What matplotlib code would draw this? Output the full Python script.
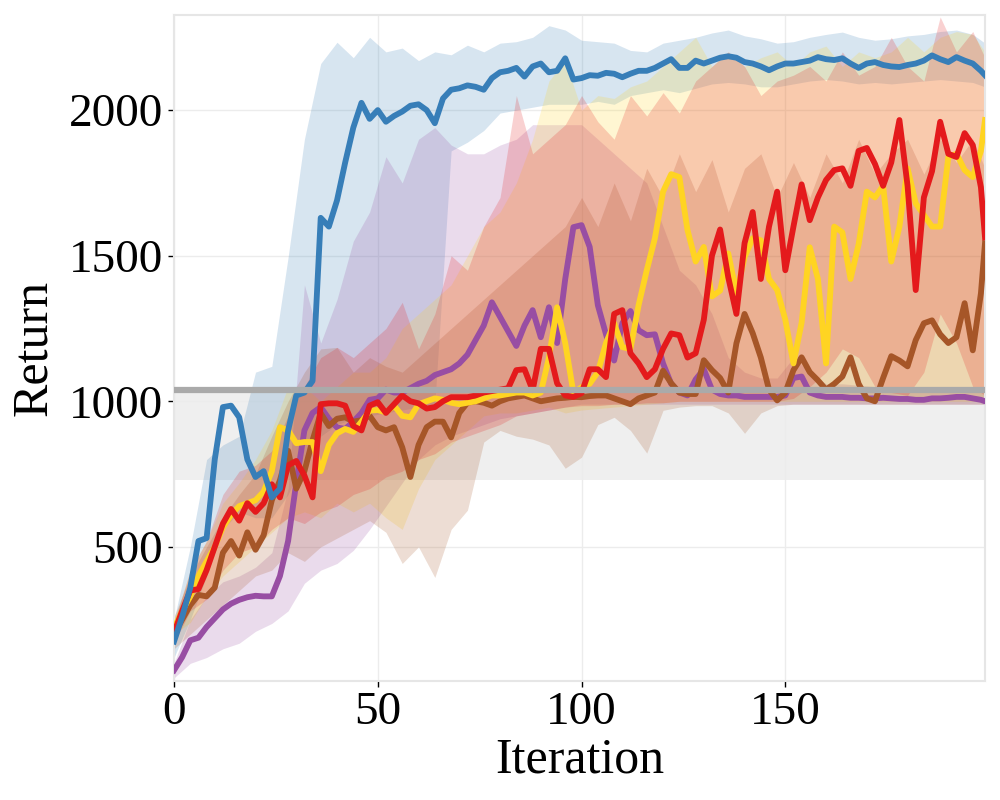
import numpy as np
import matplotlib
matplotlib.use("Agg")
import matplotlib.pyplot as plt

# ---------------- data ----------------
line_iters = list(range(0, 199, 2)) + [199]
fill_iters = list(range(0, 197, 4)) + [199]

blue_mean = [175, 260, 360, 520, 530, 800, 980, 985, 945, 800, 740, 760, 670, 700, 900, 1020, 1030, 1070, 1630, 1600,
             1690, 1820, 1940, 2025, 1970, 2000, 1960, 1980, 1995, 2015, 2020, 2000, 1955, 2040, 2070, 2075, 2085, 2080, 2070, 2110,
             2130, 2135, 2145, 2115, 2150, 2160, 2130, 2135, 2178, 2105, 2110, 2120, 2118, 2128, 2125, 2113, 2125, 2135, 2135, 2145,
             2160, 2175, 2145, 2145, 2170, 2160, 2170, 2180, 2185, 2180, 2165, 2160, 2150, 2137, 2150, 2160, 2160, 2165, 2170, 2182,
             2175, 2172, 2178, 2160, 2145, 2160, 2165, 2155, 2150, 2148, 2155, 2160, 2170, 2188, 2175, 2165, 2182, 2170, 2160, 2135, 2120]
red_mean = [205, 280, 350, 355, 420, 500, 580, 630, 590, 650, 620, 650, 715, 670, 780, 795, 745, 670, 990, 993,
            993, 985, 915, 900, 985, 997, 960, 990, 1020, 1000, 993, 975, 980, 1000, 1014, 1014, 1014, 1020, 1030, 1035,
            1040, 1045, 1107, 1110, 1038, 1180, 1180, 1062, 1020, 1015, 1028, 1110, 1110, 1083, 1300, 1313, 1165, 1130, 1083, 1110,
            1180, 1233, 1227, 1150, 1165, 1280, 1500, 1590, 1426, 1300, 1543, 1650, 1420, 1600, 1720, 1450, 1600, 1745, 1622, 1700,
            1760, 1794, 1800, 1740, 1860, 1870, 1815, 1740, 1820, 1966, 1740, 1382, 1700, 1790, 1960, 1850, 1839, 1921, 1880, 1735, 1563]
yellow_mean = [220, 280, 330, 400, 450, 500, 567, 610, 640, 650, 660, 690, 760, 911, 900, 856, 860, 860, 760, 850,
               890, 905, 895, 930, 968, 970, 962, 985, 950, 945, 990, 1000, 1010, 1005, 995, 990, 995, 1000, 1010, 1020,
               1020, 1025, 1030, 1030, 1020, 1030, 1150, 1323, 1200, 1030, 1048, 1060, 1100, 1200, 1268, 1186, 1180, 1330, 1450, 1560,
               1720, 1780, 1770, 1588, 1480, 1530, 1360, 1380, 1508, 1371, 1495, 1560, 1553, 1420, 1382, 1280, 1130, 1270, 1529, 1420,
               1130, 1600, 1580, 1420, 1540, 1720, 1700, 1740, 1480, 1600, 1800, 1680, 1640, 1600, 1600, 1839, 1850, 1794, 1770, 1860, 1966]
purple_mean = [76, 121, 179, 188, 225, 255, 285, 305, 318, 327, 332, 330, 330, 400, 520, 720, 900, 960, 980, 940,
               910, 905, 930, 960, 1005, 1010, 1040, 1030, 1030, 1045, 1060, 1070, 1090, 1100, 1110, 1130, 1160, 1210, 1260, 1340,
               1290, 1240, 1190, 1260, 1313, 1220, 1323, 1200, 1420, 1598, 1605, 1530, 1330, 1230, 1140, 1268, 1310, 1244, 1227, 1230,
               1130, 1060, 1030, 1020, 1075, 1110, 1040, 1025, 1020, 1020, 1015, 1015, 1015, 1015, 1015, 1020, 1080, 1085, 1030, 1020,
               1015, 1015, 1015, 1012, 1012, 1010, 1010, 1012, 1010, 1008, 1008, 1005, 1005, 1010, 1010, 1012, 1015, 1015, 1010, 1005, 1000]
brown_mean = [200, 250, 300, 335, 330, 360, 480, 520, 470, 550, 490, 540, 660, 729, 830, 700, 760, 866, 959, 915,
              940, 945, 930, 935, 950, 911, 900, 911, 842, 740, 850, 911, 930, 930, 876, 960, 995, 1000, 995, 985,
              1000, 1010, 1015, 1020, 1010, 1000, 1005, 1010, 1012, 1015, 1014, 1018, 1020, 1020, 1010, 1000, 990, 1010, 1020, 1030,
              1105, 1062, 1030, 1025, 1025, 1141, 1107, 1080, 1030, 1199, 1300, 1234, 1150, 1040, 1003, 1030, 1107, 1151, 1100, 1072,
              1040, 1060, 1085, 1151, 1060, 1010, 1000, 1080, 1155, 1140, 1120, 1210, 1268, 1278, 1230, 1200, 1220, 1337, 1175, 1371, 1543]

blue_upper = [250, 500, 800, 850, 880, 1100, 1120, 1495, 1900, 2160, 2233, 2180, 2250, 2200, 2213, 2170, 2200, 2190, 2223, 2200,
              2230, 2235, 2250, 2290, 2275, 2240, 2235, 2230, 2205, 2200, 2230, 2240, 2250, 2265, 2275, 2255, 2245, 2230, 2235, 2250,
              2260, 2268, 2250, 2240, 2245, 2255, 2260, 2270, 2275, 2260, 2230]
blue_lower = [120, 250, 400, 560, 620, 600, 600, 680, 800, 880, 920, 940, 950, 960, 970, 980, 990, 1860, 1890, 1930,
              1990, 2000, 2010, 2020, 2020, 2020, 2030, 2020, 2050, 2060, 2070, 2060, 2075, 2090, 2095, 2090, 2080, 2080, 2090, 2100,
              2105, 2100, 2090, 2095, 2090, 2095, 2100, 2105, 2100, 2095, 2080]
red_upper = [240, 420, 520, 680, 760, 780, 830, 950, 1050, 1150, 1185, 1150, 1200, 1250, 1340, 1180, 1300, 1500, 1450, 1600,
             1700, 2050, 1850, 1900, 1950, 2050, 1960, 1900, 2050, 1980, 2060, 1990, 2100, 2150, 2200, 2150, 2050, 2100, 2120, 2150,
             2100, 2200, 2120, 2150, 2250, 2150, 2100, 2320, 2200, 2270, 2180]
red_lower = [170, 280, 320, 420, 480, 500, 560, 600, 580, 620, 640, 680, 700, 740, 760, 800, 820, 860, 880, 900,
             920, 950, 960, 970, 980, 985, 985, 990, 990, 995, 995, 1000, 1000, 1000, 1000, 1000, 1000, 1000, 1010, 1050,
             1100, 1180, 1150, 1050, 1030, 1020, 1100, 1300, 1200, 1050, 1020]
yellow_upper = [240, 420, 520, 650, 720, 800, 900, 1050, 1050, 1000, 1050, 1100, 1100, 1150, 1250, 1300, 1350, 1400, 1500, 1600,
                1650, 1750, 1900, 2100, 2170, 2000, 2050, 2040, 2080, 2100, 2150, 2200, 2250, 2150, 2200, 2150, 2180, 2200, 2150, 2200,
                2220, 2150, 2200, 2180, 2200, 2250, 2200, 2250, 2270, 2260, 2200]
yellow_lower = [200, 240, 330, 400, 450, 500, 550, 600, 620, 600, 650, 620, 650, 600, 560, 700, 800, 850, 900, 950,
                960, 960, 970, 980, 960, 970, 975, 980, 985, 990, 995, 1000, 1000, 1000, 1000, 1000, 1000, 1000, 1000, 1000,
                1000, 1000, 1000, 1000, 1000, 1000, 1000, 1000, 1000, 1000, 1000]
purple_upper = [100, 250, 330, 380, 400, 430, 480, 700, 1400, 1200, 1350, 1550, 1650, 1840, 1750, 1900, 1940, 1880, 1850, 1850,
                1880, 1900, 1950, 1950, 1950, 1950, 1900, 1850, 1800, 1750, 1600, 1450, 1400, 1300, 1150, 1100, 1080, 1080, 1150, 1100,
                1060, 1060, 1055, 1050, 1050, 1050, 1050, 1050, 1050, 1050, 1050]
purple_lower = [50, 100, 120, 150, 169, 210, 237, 280, 375, 420, 443, 488, 560, 640, 720, 800, 850, 880, 900, 920,
                940, 950, 960, 970, 980, 990, 990, 990, 990, 990, 990, 990, 990, 990, 990, 990, 990, 990, 990, 990,
                990, 990, 990, 990, 990, 990, 990, 990, 990, 990, 990]
brown_upper = [260, 400, 500, 600, 680, 750, 880, 1000, 1100, 1180, 1185, 1100, 1150, 1120, 1100, 1150, 1200, 1250, 1300, 1350,
               1400, 1450, 1500, 1550, 1600, 1700, 1600, 1750, 1620, 1800, 1700, 1850, 1720, 1830, 1650, 1800, 1850, 1700, 1820, 1700,
               1850, 1750, 1900, 1780, 1850, 1900, 1780, 1900, 1820, 1900, 1800]
brown_lower = [150, 200, 250, 300, 350, 400, 420, 480, 450, 500, 530, 560, 590, 550, 443, 500, 395, 560, 626, 860,
               900, 880, 870, 850, 770, 808, 920, 945, 900, 822, 969, 980, 985, 985, 960, 890, 960, 985, 990, 990,
               990, 990, 990, 990, 990, 990, 990, 990, 990, 990, 990]

baseline_value = 1040
baseline_low = 730

x_ticks = [0, 50, 100, 150]
y_ticks = [500, 1000, 1500, 2000]

colors = {
    "blue": "#377eb8",
    "red": "#e41a1c",
    "yellow": "#ffd422",
    "purple": "#984ea3",
    "brown": "#a65628",
}

# ---------------- plot ----------------
plt.rcParams['font.family'] = ['Liberation Serif', 'DejaVu Serif']
fig = plt.figure(figsize=(10, 8), dpi=100)
ax = fig.add_axes([0.174, 0.149, 0.811, 0.832])

ax.fill_between([0, 199], [baseline_low, baseline_low], [baseline_value, baseline_value],
                color="#efefef", lw=0, zorder=0.5)

fills = [
    ("blue", blue_lower, blue_upper),
    ("purple", purple_lower, purple_upper),
    ("yellow", yellow_lower, yellow_upper),
    ("brown", brown_lower, brown_upper),
    ("red", red_lower, red_upper),
]
for name, lo, hi in fills:
    ax.fill_between(fill_iters, lo, hi, color=colors[name], alpha=0.2, lw=0, zorder=1)

lines = [
    ("purple", purple_mean),
    ("brown", brown_mean),
    ("yellow", yellow_mean),
    ("red", red_mean),
    ("blue", blue_mean),
]
for name, ys in lines:
    ax.plot(line_iters, ys, color=colors[name], lw=4.2, zorder=3, solid_joinstyle='round')

ax.axhline(baseline_value, color="#aaaaaa", lw=4.5, zorder=5)

ax.set_xlim(0, 199)
ax.set_ylim(40, 2326)
ax.set_xticks(x_ticks)
ax.set_yticks(y_ticks)
ax.tick_params(labelsize=34, length=4, width=1, color='black', direction='out', pad=4)
ax.grid(True, color="#ececec", lw=1, zorder=0)
ax.set_axisbelow(True)
for s in ax.spines.values():
    s.set_color("#e6e6e6")
    s.set_linewidth(1.5)
ax.set_xlabel("Iteration", fontsize=36, labelpad=2)
ax.set_ylabel("Return", fontsize=36, labelpad=8)

fig.savefig("out.png", dpi=100)
